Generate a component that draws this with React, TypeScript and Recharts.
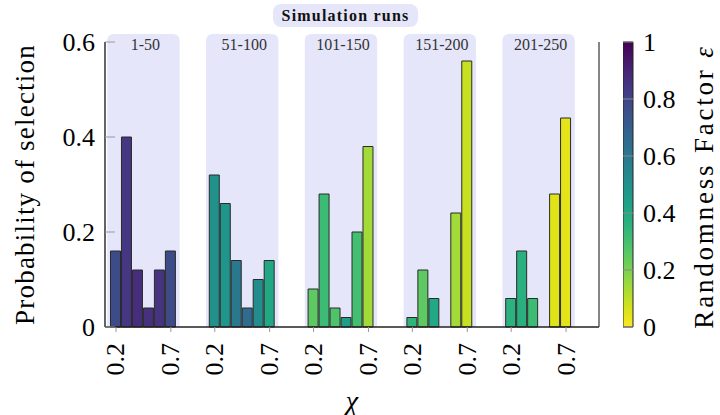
import { ComposedChart, BarChart, Bar, XAxis, YAxis, ReferenceArea, Cell } from 'recharts'

const runGroups = ['1-50', '51-100', '101-150', '151-200', '201-250']
const chiValues = [0.2, 0.3, 0.4, 0.5, 0.6, 0.7]
const chiTickValues = [0.2, 0.7]
const chiTickLabels = ['0.2', '0.7']
const probTicks = [0, 0.2, 0.4, 0.6]
const epsTicks = [0, 0.2, 0.4, 0.6, 0.8, 1]

// probability of selection for each chi, one list per block of runs
const prob1to50 = [0.16, 0.4, 0.12, 0.04, 0.12, 0.16]
const prob51to100 = [0.32, 0.26, 0.14, 0.04, 0.1, 0.14]
const prob101to150 = [0.08, 0.28, 0.04, 0.02, 0.2, 0.38]
const prob151to200 = [0.02, 0.12, 0.06, 0, 0.24, 0.56]
const prob201to250 = [0.06, 0.16, 0.06, 0, 0.28, 0.44]

// randomness factor of each bar, drives the colour
const eps1to50 = [0.77, 0.84, 0.87, 0.86, 0.85, 0.77]
const eps51to100 = [0.5, 0.48, 0.6, 0.65, 0.52, 0.4]
const eps101to150 = [0.25, 0.32, 0.28, 0.44, 0.3, 0.14]
const eps151to200 = [0.35, 0.25, 0.4, 0, 0.14, 0.085]
const eps201to250 = [0.36, 0.37, 0.32, 0, 0.05, 0.04]

const VIRIDIS = [
  '#440154', '#471365', '#482475', '#463480', '#414487', '#3b528b', '#355f8d',
  '#2f6c8e', '#2a788e', '#25848e', '#21918c', '#1e9c89', '#22a884', '#2fb47c',
  '#44bf70', '#5ec962', '#7ad151', '#9bd93c', '#bddf26', '#dfe318', '#fde725',
]

function hexToRgb(h: string) {
  return [1, 3, 5].map((i) => parseInt(h.slice(i, i + 2), 16))
}

function viridis(t: number) {
  const p = Math.min(Math.max(t, 0), 1) * (VIRIDIS.length - 1)
  const i = Math.min(Math.floor(p), VIRIDIS.length - 2)
  const f = p - i
  const a = hexToRgb(VIRIDIS[i])
  const b = hexToRgb(VIRIDIS[i + 1])
  const c = a.map((v, k) => Math.round(v + (b[k] - v) * f))
  return `rgb(${c[0]},${c[1]},${c[2]})`
}

const GROUP_STRIDE = 0.9
const probByGroup = [prob1to50, prob51to100, prob101to150, prob151to200, prob201to250]
const epsByGroup = [eps1to50, eps51to100, eps101to150, eps151to200, eps201to250]

const barData = runGroups
  .flatMap((run, gi) =>
    chiValues.map((chi, ci) => ({
      run,
      chi,
      x: gi * GROUP_STRIDE + chi,
      prob: probByGroup[gi][ci],
      eps: epsByGroup[gi][ci],
    })),
  )
  .filter((d) => d.prob > 0)

const xTicks: number[] = []
const xTickText = new Map<number, string>()
runGroups.forEach((_, gi) => {
  chiTickValues.forEach((c, k) => {
    const v = gi * GROUP_STRIDE + c
    xTicks.push(v)
    xTickText.set(Math.round(v * 100), chiTickLabels[k])
  })
})

const colorbarData = [{ name: 'eps', top: 1 }]

const FONT = 'Liberation Serif'

function ChiTick(props: any) {
  const { x, y, payload } = props
  return (
    <text
      transform={`translate(${x},${y}) rotate(-90)`}
      textAnchor="end"
      dominantBaseline="central"
      fontSize={26}
      fontFamily={FONT}
      fill="#000"
    >
      {xTickText.get(Math.round(payload.value * 100))}
    </text>
  )
}

function RunPanel(props: any) {
  const { x, y, width, height, name } = props
  const top = y - 8
  const r = 7
  const bottom = y + height
  const d = `M${x},${bottom} L${x},${top + r} Q${x},${top} ${x + r},${top} L${x + width - r},${top} Q${x + width},${top} ${x + width},${top + r} L${x + width},${bottom} Z`
  return (
    <g>
      <path d={d} fill="#e6e6fa" stroke="none" />
      <text
        x={x + width / 2 + 2}
        y={top + 5}
        textAnchor="middle"
        dominantBaseline="hanging"
        fontSize={16}
        fontFamily={FONT}
        fill="#333"
      >
        {name}
      </text>
    </g>
  )
}

function YTitle(props: any) {
  const { viewBox } = props
  const cy = viewBox.y + viewBox.height / 2
  return (
    <text
      transform={`translate(${viewBox.x + 25},${cy}) rotate(-90)`}
      textAnchor="middle"
      dominantBaseline="central"
      fontSize={27}
      fontFamily={FONT}
      letterSpacing={1.2}
      fill="#000"
    >
      Probability of selection
    </text>
  )
}

function XTitle(props: any) {
  const { viewBox } = props
  return (
    <text
      x={viewBox.x + viewBox.width / 2}
      y={viewBox.y + 73}
      textAnchor="middle"
      dominantBaseline="central"
      fontSize={28}
      fontFamily={FONT}
      fontStyle="italic"
      fill="#000"
    >
      χ
    </text>
  )
}

function EpsTitle(props: any) {
  const { viewBox } = props
  const cy = viewBox.y + viewBox.height / 2 + 2
  // alphabetic baseline faces right once rotated, glyphs extend to the left
  return (
    <text
      transform={`translate(${viewBox.x + 80},${cy}) rotate(-90)`}
      textAnchor="middle"
      fontSize={27}
      fontFamily={FONT}
      letterSpacing={2.8}
      fill="#000"
    >
      Randomness Factor <tspan fontStyle="italic">ε</tspan>
    </text>
  )
}

export default function App() {
  return (
    <div style={{ position: 'absolute', left: 0, top: 0, width: 720, height: 415, background: '#fff', fontFamily: FONT }}>
      <div
        style={{
          position: 'absolute',
          left: 273,
          top: 4,
          width: 145,
          height: 23,
          background: '#e6e6fa',
          borderRadius: 8,
          fontWeight: 'bold',
          fontSize: 16,
          fontFamily: FONT,
          letterSpacing: 1.2,
          lineHeight: '23px',
          textAlign: 'center',
          color: '#111',
        }}
      >
        Simulation runs
      </div>

      <div style={{ position: 'absolute', left: 0, top: 0 }}>
        <ComposedChart width={720} height={415} data={barData} margin={{ top: 42, right: 120, bottom: 0, left: 0 }}>
          {runGroups.map((g, gi) => (
            <ReferenceArea
              key={g}
              yAxisId="left"
              x1={gi * GROUP_STRIDE + 0.12}
              x2={gi * GROUP_STRIDE + 0.78}
              y1={0}
              y2={0.6}
              shape={(p: any) => <RunPanel {...p} name={g} />}
            />
          ))}
          <XAxis
            dataKey="x"
            type="number"
            domain={[0.1, 4.6]}
            ticks={xTicks}
            height={88}
            tickSize={5}
            tickMargin={11}
            tickLine={{ stroke: '#999' }}
            axisLine={{ stroke: '#222', strokeWidth: 1.6 }}
            tick={<ChiTick />}
            interval={0}
            label={<XTitle />}
          />
          <YAxis
            yAxisId="left"
            domain={[0, 0.6]}
            ticks={probTicks}
            width={105}
            tickSize={-10}
            tickMargin={20}
            tickLine={{ stroke: '#999' }}
            axisLine={{ stroke: '#111', strokeWidth: 1.3 }}
            tick={{ fill: '#000', fontSize: 26, fontFamily: FONT }}
            label={<YTitle />}
          />
          <YAxis
            yAxisId="right"
            orientation="right"
            domain={[0, 0.6]}
            ticks={probTicks}
            width={1}
            tickSize={-10}
            tick={false}
            tickLine={{ stroke: '#999' }}
            axisLine={{ stroke: '#444', strokeWidth: 1.3 }}
          />
          <Bar yAxisId="left" dataKey="prob" barSize={10} stroke="#2a2a2a" strokeWidth={1} isAnimationActive={false}>
            {barData.map((d, i) => (
              <Cell key={i} fill={viridis(1 - d.eps)} />
            ))}
          </Bar>
        </ComposedChart>
      </div>

      <div style={{ position: 'absolute', left: 623, top: 0 }}>
        <BarChart width={97} height={415} data={colorbarData} margin={{ top: 42, right: 0, bottom: 88, left: 0 }} barCategoryGap={0}>
          <defs>
            <linearGradient id="viridisBar" x1="0" y1="0" x2="0" y2="1">
              {VIRIDIS.map((c, i) => (
                <stop key={i} offset={`${(i / (VIRIDIS.length - 1)) * 100}%`} stopColor={c} />
              ))}
            </linearGradient>
          </defs>
          <XAxis dataKey="name" hide />
          <YAxis
            orientation="right"
            domain={[0, 1]}
            ticks={epsTicks}
            width={87}
            tickSize={-10}
            tickMargin={20}
            tickLine={{ stroke: '#888' }}
            axisLine={false}
            tick={{ fill: '#000', fontSize: 26, fontFamily: FONT, textAnchor: 'start' }}
            label={<EpsTitle />}
          />
          <Bar dataKey="top" fill="url(#viridisBar)" stroke="#222" strokeWidth={1} isAnimationActive={false} />
        </BarChart>
      </div>
    </div>
  )
}
